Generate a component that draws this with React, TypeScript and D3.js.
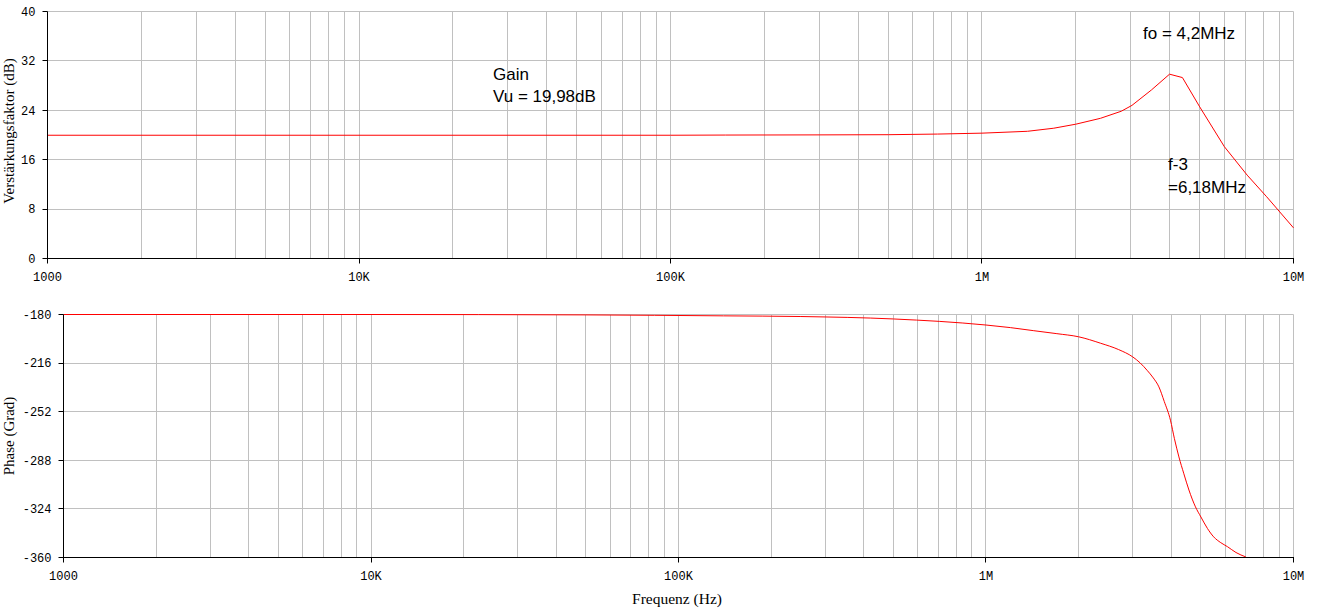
import React from "react";
import * as d3 from "d3";

const xTickValues = [1e3, 1e4, 1e5, 1e6, 1e7];
const xTickLabels = ["1000", "10K", "100K", "1M", "10M"];
const gainTicks = [0, 8, 16, 24, 32, 40];
const phaseTicks = [-180, -216, -252, -288, -324, -360];

const gainFreq = [1e3, 1e4, 1e5, 1.5e5, 3e5, 5e5, 7.2e5, 1e6, 1.4e6, 1.7e6, 2e6, 2.4e6, 2.8e6, 3.03e6, 3.5e6, 4.0e6, 4.4e6, 5.0e6, 6.0e6, 7.1e6, 8.2e6, 1e7];
const gainDb = [19.96, 19.96, 19.96, 19.99, 20.02, 20.05, 20.15, 20.3, 20.6, 21.1, 21.75, 22.7, 23.85, 24.8, 27.3, 29.85, 29.3, 24.55, 18.1, 13.5, 10.0, 4.96];

const phaseFreq = [1e3, 1e4, 5e4, 1.4e5, 2.5e5, 5e5, 1e6, 1.2e6, 1.43e6, 1.7e6, 2e6, 2.36e6, 2.7e6, 3.0e6, 3.17e6, 3.34e6, 3.5e6, 3.65e6, 3.8e6, 3.98e6, 4.1e6, 4.24e6, 4.4e6, 4.57e6, 4.8e6, 5.0e6, 5.25e6, 5.5e6, 5.8e6, 6.1e6, 6.5e6, 7.0e6];
const phaseDeg = [-180, -180, -180.3, -181, -181.5, -183.3, -187.8, -189.7, -192, -194.2, -196.5, -201.3, -206, -211.4, -215.8, -221.3, -227, -233.6, -244.5, -258.3, -272, -285.5, -298, -310, -322.5, -330, -338.5, -344.7, -349, -352, -356.3, -359.6];

const annotations = [
  { text: "Gain", x: 493, y: 80 },
  { text: "Vu = 19,98dB", x: 493, y: 102 },
  { text: "fo = 4,2MHz", x: 1143, y: 39 },
  { text: "f-3", x: 1168, y: 170 },
  { text: "=6,18MHz", x: 1168, y: 192.5 },
];

const gridFreqs: number[] = [];
for (let d = 1e3; d < 1e7; d *= 10) {
  for (let k = 2; k <= 10; k++) gridFreqs.push(d * k);
}

const W = 1320;
const H = 609;
const gridColor = "#c0c0c0";
const red = "#ff0000";
const mono = "'Liberation Mono', 'DejaVu Sans Mono', monospace";
const serif = "'Liberation Serif', 'DejaVu Serif', serif";
const sans = "'Liberation Sans', Arial, sans-serif";

type PanelProps = {
  x0: number; x1: number; y0: number; y1: number;
  yDomain: [number, number];
  yTicks: number[];
  freqs: number[]; vals: number[];
  id: string;
  smooth: boolean;
};

function Panel({ x0, x1, y0, y1, yDomain, yTicks, freqs, vals, id, smooth }: PanelProps) {
  const x = d3.scaleLog().domain([1e3, 1e7]).range([x0, x1]);
  const y = d3.scaleLinear().domain(yDomain).range([y1, y0]);
  const px = (v: number) => Math.round(x(v) - 0.5) + 0.5;
  const py = (v: number) => Math.round(y(v) - 0.5) + 0.5;
  const line = d3
    .line<number>()
    .x((_, i) => x(freqs[i]))
    .y((_, i) => y(vals[i]))
    .curve(smooth ? d3.curveMonotoneX : d3.curveLinear);
  const xl = px(1e3);
  const yb = py(yDomain[0]);
  return (
    <g>
      <defs>
        <clipPath id={id}>
          <rect x={x0 - 1} y={y0 - 1} width={x1 - x0 + 2} height={y1 - y0 + 2} />
        </clipPath>
      </defs>
      {gridFreqs.map((f) => (
        <line key={"v" + f} x1={px(f)} x2={px(f)} y1={py(yDomain[1])} y2={yb} stroke={gridColor} strokeWidth={1} />
      ))}
      {yTicks.map((t) => (
        <line key={"h" + t} x1={xl} x2={px(1e7)} y1={py(t)} y2={py(t)} stroke={gridColor} strokeWidth={1} />
      ))}
      <path d={line(vals) || ""} fill="none" stroke={red} strokeWidth={1} clipPath={`url(#${id})`} />
      <line x1={xl} x2={xl} y1={py(yDomain[1])} y2={yb + 0.5} stroke="#000" strokeWidth={1} />
      <line x1={xl} x2={px(1e7) + 0.5} y1={yb} y2={yb} stroke="#000" strokeWidth={1} />
      {yTicks.map((t) => (
        <g key={"yt" + t}>
          <line x1={xl - 5} x2={xl} y1={py(t)} y2={py(t)} stroke="#000" strokeWidth={1} />
          <text x={xl - 12} y={y(t)} dy="0.35em" textAnchor="end" fontFamily={mono} fontSize={12} fill="#000">
            {String(t)}
          </text>
        </g>
      ))}
      {xTickValues.map((t, i) => (
        <g key={"xt" + t}>
          <line x1={px(t)} x2={px(t)} y1={yb} y2={yb + 5} stroke="#000" strokeWidth={1} />
          <text x={x(t)} y={yb + 18} dy="0.35em" textAnchor="middle" fontFamily={mono} fontSize={12} fill="#000">
            {xTickLabels[i]}
          </text>
        </g>
      ))}
    </g>
  );
}

export default function App() {
  return (
    <svg width={W} height={H} style={{ position: "absolute", left: 0, top: 0, background: "#fff" }}>
      <rect x={0} y={0} width={W} height={H} fill="#fff" />
      <Panel x0={47.5} x1={1293.5} y0={11.5} y1={258.5} yDomain={[0, 40]} yTicks={gainTicks}
        freqs={gainFreq} vals={gainDb} id="clipTop" smooth={false} />
      <Panel x0={63.5} x1={1293.5} y0={314.5} y1={557.5} yDomain={[-360, -180]} yTicks={phaseTicks}
        freqs={phaseFreq} vals={phaseDeg} id="clipBottom" smooth={true} />
      <text transform="translate(13.5,131) rotate(-90)" textAnchor="middle" fontFamily={serif} fontSize={15} fill="#000">
        Verstärkungsfaktor (dB)
      </text>
      <text transform="translate(13.5,436) rotate(-90)" textAnchor="middle" fontFamily={serif} fontSize={15} fill="#000">
        Phase (Grad)
      </text>
      <text x={677} y={604} textAnchor="middle" fontFamily={serif} fontSize={15.5} fill="#000">
        Frequenz (Hz)
      </text>
      {annotations.map((a) => (
        <text key={a.text} x={a.x} y={a.y} fontFamily={sans} fontSize={17} fill="#000">
          {a.text}
        </text>
      ))}
    </svg>
  );
}
